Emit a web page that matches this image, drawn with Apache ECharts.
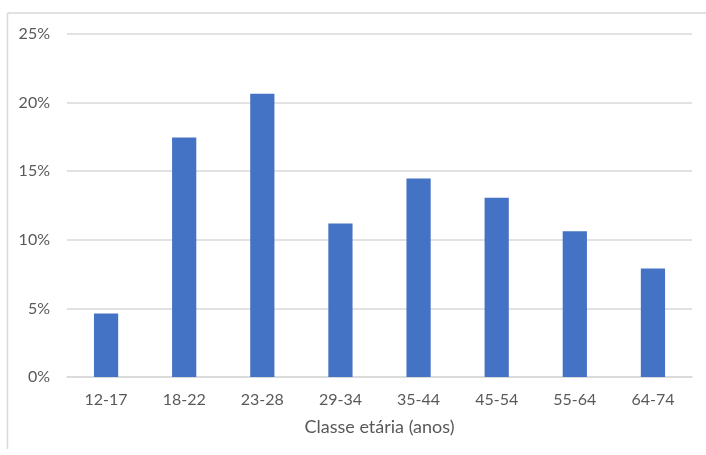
<!DOCTYPE html>
<html>
<head>
<meta charset="utf-8">
<script src="https://cdn.jsdelivr.net/npm/echarts@6/dist/echarts.min.js"></script>
<style>
html,body{margin:0;padding:0;background:#fff;}
#chart{width:706px;height:455px;}
</style>
</head>
<body>
<div id="chart"></div>
<script>
const categories = ['12-17','18-22','23-28','29-34','35-44','45-54','55-64','64-74'];
const shares = [4.62, 17.45, 20.65, 11.18, 14.46, 13.07, 10.62, 7.90];
const xAxisTitle = 'Classe etária (anos)';

const FONT = 'Lato, "Open Sans", sans-serif';
const chart = echarts.init(document.getElementById('chart'), null, {renderer:'canvas'});
chart.setOption({
  animation: false,
  backgroundColor: '#fff',
  textStyle: {fontFamily: FONT},
  graphic: [
    {type:'line', shape:{x1:7.5, y1:13, x2:706, y2:13}, style:{stroke:'#D9D9D9', lineWidth:1.5}},
    {type:'line', shape:{x1:7.5, y1:13, x2:7.5, y2:449}, style:{stroke:'#D9D9D9', lineWidth:1.5}}
  ],
  grid: {left:67, right:14, top:34, bottom:78, containLabel:false},
  xAxis: {
    type:'category',
    data: categories,
    name: xAxisTitle,
    nameLocation:'middle',
    nameGap: 41,
    nameTextStyle:{color:'#595959', fontSize:18, fontFamily:FONT},
    axisLine:{lineStyle:{color:'#D9D9D9', width:1.5}},
    axisTick:{show:false},
    axisLabel:{color:'#595959', fontSize:16, margin:15, fontFamily:FONT}
  },
  yAxis: {
    type:'value',
    min:0, max:25, interval:5,
    axisLine:{show:false},
    axisTick:{show:false},
    splitLine:{lineStyle:{color:'#D9D9D9', width:1.5}},
    axisLabel:{color:'#595959', fontSize:16, margin:17, formatter:'{value}%', fontFamily:FONT}
  },
  series: [{
    type:'bar',
    data: shares,
    barWidth:'31%',
    itemStyle:{color:'#4472C4'}
  }]
});
</script>
</body>
</html>
